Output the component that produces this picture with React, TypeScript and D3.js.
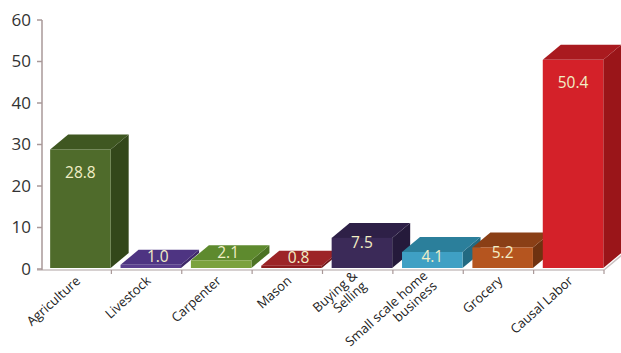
import React from "react";
import * as d3 from "d3";

const categories: string[][] = [
  ["Agriculture"],
  ["Livestock"],
  ["Carpenter"],
  ["Mason"],
  ["Buying &", "Selling"],
  ["Small scale home", "business"],
  ["Grocery"],
  ["Causal Labor"],
];
const values: number[] = [28.8, 1.0, 2.1, 0.8, 7.5, 4.1, 5.2, 50.4];
const yTicks: number[] = [0, 10, 20, 30, 40, 50, 60];
const frontColors = ["#4f6b2b", "#5b3f8f", "#7ba23e", "#8c1d1f", "#3b2a58", "#3fa0c4", "#b5551f", "#d42129"];
const topColors = ["#3f5721", "#4e3482", "#5e8a2e", "#9c2427", "#2e2047", "#2b7f9b", "#8a3f16", "#a91a1f"];
const sideColors = ["#33471a", "#3e2868", "#4c7224", "#6e1416", "#251a3b", "#226a82", "#6f3210", "#9a1519"];

const W = 621;
const H = 353;
const DX = 18;
const DY = 15;

export default function App() {
  const keys = categories.map((c) => c.join(" "));
  const x = d3.scaleBand<string>().domain(keys).range([41, 604]).paddingInner(0).paddingOuter(0);
  const y = d3.scaleLinear().domain([0, 60]).range([269, 20]);
  const bw = x.bandwidth();
  const base = y(0);

  return (
    <svg width={W} height={H} style={{ position: "absolute", left: 0, top: 0, background: "#fff" }}
      fontFamily="'Open Sans', sans-serif">
      {/* floor */}
      <line x1={37} x2={604} y1={base + 1} y2={base + 1} stroke="#c9c0c0" strokeWidth={1.5} />
      <line x1={604} y1={base + 1} x2={604 + DX} y2={base + 1 - DY} stroke="#c9c0c0" strokeWidth={1.5} />
      {/* y axis */}
      <line x1={42} x2={42} y1={y(60)} y2={base + 1} stroke="#a89898" strokeWidth={1.5} />
      {yTicks.map((t) => (
        <g key={t}>
          <line x1={37} x2={42} y1={y(t)} y2={y(t)} stroke="#a89898" strokeWidth={1.5} />
          <text x={31} y={y(t)} dy="0.35em" textAnchor="end" fontSize={17} fill="#333">{t}</text>
        </g>
      ))}
      {/* category ticks */}
      {keys.map((k) => (
        <line key={k} x1={(x(k) as number) + bw} x2={(x(k) as number) + bw} y1={base + 1} y2={base + 5}
          stroke="#a89898" strokeWidth={1.2} />
      ))}
      {/* bars */}
      {keys.map((k, i) => {
        const x0 = (x(k) as number) + bw * 0.13;
        const x1 = (x(k) as number) + bw * 0.99;
        const top = y(values[i]);
        const bot = base - 1;
        const side = `M${x1},${top} L${x1 + DX},${top - DY} L${x1 + DX},${bot - DY} L${x1},${bot} Z`;
        const topFace = `M${x0},${top} L${x0 + DX},${top - DY} L${x1 + DX},${top - DY} L${x1},${top} Z`;
        return (
          <g key={k}>
            <path d={side} fill={sideColors[i]} />
            <path d={topFace} fill={topColors[i]} />
            <rect x={x0} y={top} width={x1 - x0} height={bot - top} fill={frontColors[i]} />
          </g>
        );
      })}
      {/* value labels */}
      {keys.map((k, i) => {
        const x0 = (x(k) as number) + bw * 0.13;
        const x1 = (x(k) as number) + bw * 0.99;
        const top = y(values[i]);
        const h = base - top;
        const off = h > 60 ? 23 : h > 15 ? 5 : -8;
        const cx = (x0 + x1) / 2 + (h > 15 ? 0 : DX / 2 - 2);
        return (
          <text key={k} x={cx} y={top + off} dy="0.35em" textAnchor="middle" fontSize={15.5} fill="#f2eec6">
            {values[i].toFixed(1)}
          </text>
        );
      })}
      {/* category labels */}
      {categories.map((lines, i) => {
        const cx = (x(keys[i]) as number) + bw / 2;
        const n = lines.length;
        return (
          <g key={keys[i]} transform={`translate(${cx + 5},${base + 13}) rotate(-42)`}>
            {lines.map((ln, j) => (
              <text key={j} x={0} y={(j - (n - 1) / 2) * 14} textAnchor="end" fontSize={13} fill="#222">{ln}</text>
            ))}
          </g>
        );
      })}
    </svg>
  );
}
